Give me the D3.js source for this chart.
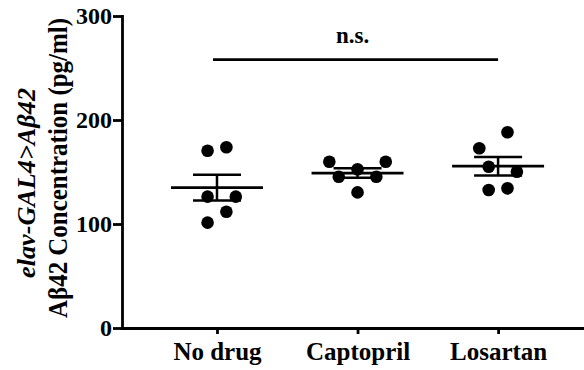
<!DOCTYPE html>
<html>
<head>
<meta charset="utf-8">
<script src="https://d3js.org/d3.v7.min.js"></script>
<style>
body { margin: 0; background: #fff; }
.axis path, .axis line { stroke: #000; stroke-width: 2.8px; }
</style>
</head>
<body>
<svg id="chart" width="584" height="370"></svg>
<script>
// values (pg/ml)
var categories = ["No drug", "Captopril", "Losartan"];
var noDrug    = [170.5, 173.8, 126.3, 126.3, 111.8, 101.3];
var captopril = [159.9, 159.9, 152.6, 145.5, 145.5, 130.4];
var losartan  = [188.2, 172.8, 155.1, 150.3, 132.7, 134.3];
// scatter column slot of each dot (as in the original dot plot)
var jitter = [[-1, 1, -1, 2, 1, -1], [-3, 3, 0, -2, 2, 0], [1, -2, -1, 2, -1, 1]];
var yTicks = [0, 100, 200, 300];
var sigLabel = "n.s.";
var sigValue = 258;

var groups = [noDrug, captopril, losartan];
var serif = "'Liberation Serif'";

var svg = d3.select("#chart"),
    margin = {top: 16, right: 1, bottom: 42, left: 122},
    width = +svg.attr("width"),
    height = +svg.attr("height");

var x = d3.scalePoint()
    .domain(categories)
    .range([margin.left, width - margin.right])
    .padding(0.64)
    .align(0.528);

var y = d3.scaleLinear()
    .domain([0, 300])
    .range([height - margin.bottom, margin.top]);

var slot = 9.4, r = 6.3;

// axes
var xAxis = svg.append("g")
    .attr("class", "axis")
    .attr("transform", "translate(0," + y(0) + ")")
    .call(d3.axisBottom(x).tickSize(6).tickSizeOuter(0).tickPadding(8));
xAxis.selectAll("text")
    .style("font-family", serif).style("font-weight", "bold")
    .style("font-size", "25px").style("fill", "#000");

var yAxis = svg.append("g")
    .attr("class", "axis")
    .attr("transform", "translate(" + margin.left + ",0)")
    .call(d3.axisLeft(y).tickValues(yTicks).tickSize(9).tickSizeOuter(0).tickPadding(1));
yAxis.selectAll("text")
    .style("font-family", serif).style("font-weight", "bold")
    .style("font-size", "24px").style("fill", "#000");

svg.selectAll(".axis .domain").attr("stroke-linecap", "square");

// y title, two lines
var title = svg.append("g")
    .attr("transform", "rotate(-90)");

title.append("text")
    .attr("x", -278).attr("y", 35)
    .style("font-family", serif).style("font-weight", "bold")
    .style("font-size", "26px")
    .style("font-style", "italic")
    .attr("textLength", 190)
    .attr("lengthAdjust", "spacingAndGlyphs")
    .text("elav-GAL4>Aβ42");

title.append("text")
    .attr("x", -318).attr("y", 67)
    .style("font-family", serif).style("font-weight", "bold")
    .style("font-size", "27px")
    .attr("textLength", 300)
    .attr("lengthAdjust", "spacingAndGlyphs")
    .text("Aβ42 Concentration (pg/ml)");

// mean and SEM per group
var stats = groups.map(function(g, i) {
    var m = d3.mean(g),
        sem = d3.deviation(g) / Math.sqrt(g.length);
    return {cat: categories[i], mean: m, lo: m - sem, hi: m + sem};
});

var bars = svg.append("g")
    .attr("stroke", "#000");

bars.selectAll(".mean")
    .data(stats).enter().append("line")
    .attr("class", "mean")
    .attr("x1", d => x(d.cat) - 46).attr("x2", d => x(d.cat) + 46)
    .attr("y1", d => y(d.mean)).attr("y2", d => y(d.mean))
    .attr("stroke-width", 2.8);

bars.selectAll(".whisker")
    .data(stats).enter().append("line")
    .attr("class", "whisker")
    .attr("x1", d => x(d.cat)).attr("x2", d => x(d.cat))
    .attr("y1", d => y(d.lo)).attr("y2", d => y(d.hi))
    .attr("stroke-width", 2.5);

["lo", "hi"].forEach(function(k) {
    bars.selectAll(".cap-" + k)
        .data(stats).enter().append("line")
        .attr("class", "cap-" + k)
        .attr("x1", d => x(d.cat) - 24).attr("x2", d => x(d.cat) + 24)
        .attr("y1", d => y(d[k])).attr("y2", d => y(d[k]))
        .attr("stroke-width", 2.5);
});

// dots
var points = [];
groups.forEach(function(g, i) {
    g.forEach(function(v, j) {
        points.push({cat: categories[i], value: v, off: jitter[i][j]});
    });
});

svg.append("g")
    .selectAll("circle")
    .data(points).enter().append("circle")
    .attr("cx", d => x(d.cat) + d.off * slot)
    .attr("cy", d => y(d.value))
    .attr("r", r)
    .attr("fill", "#000");

// significance bar
var x1 = x(categories[0]) - 4, x2 = x(categories[categories.length - 1]);
svg.append("line")
    .attr("x1", x1).attr("x2", x2)
    .attr("y1", y(sigValue)).attr("y2", y(sigValue))
    .attr("stroke", "#000")
    .attr("stroke-width", 2.8);

svg.append("text")
    .attr("x", (x1 + x2) / 2 - 3)
    .attr("y", y(sigValue) - 17)
    .attr("text-anchor", "middle")
    .style("font-family", serif).style("font-weight", "bold")
    .style("font-size", "23px")
    .text(sigLabel);
</script>
</body>
</html>
